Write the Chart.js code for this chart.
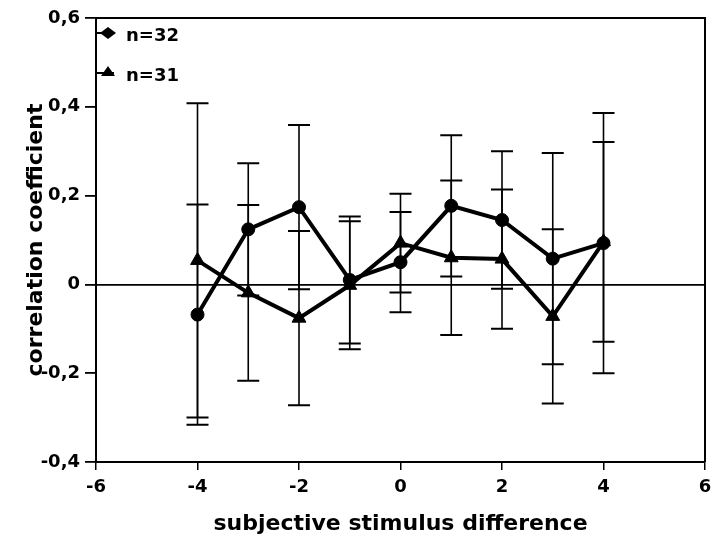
<!DOCTYPE html>
<html>
<head>
<meta charset="utf-8">
<script src="https://cdn.jsdelivr.net/npm/chart.js@4.4.0/dist/chart.umd.min.js"></script>
<style>
    html, body { margin: 0; padding: 0; background: #fff; }
    #contenedor { width: 714px; height: 549px; }
</style>
</head>
<body>
<div id="contenedor"><canvas id="grafico"></canvas></div>
<script>
// Datos
const xValores = [-4, -3, -2, -1, 0, 1, 2, 3, 4];
const n32Valores = [-0.068, 0.124, 0.174, 0.010, 0.050, 0.177, 0.145, 0.058, 0.093];
const n32Errores = [0.248, 0.149, 0.185, 0.143, 0.113, 0.159, 0.155, 0.238, 0.293];
const n31Valores = [0.054, -0.019, -0.076, -0.002, 0.093, 0.060, 0.057, -0.072, 0.096];
const n31Errores = [0.354, 0.198, 0.196, 0.144, 0.111, 0.174, 0.157, 0.196, 0.225];
const xTicks = [-6, -4, -2, 0, 2, 4, 6];
const yTicks = [-0.4, -0.2, 0, 0.2, 0.4, 0.6];

const fuente = 'DejaVu Sans';

// Barras de error (se dibujan antes de las líneas)
const barrasError = {
    id: 'barrasError',
    beforeDatasetsDraw(chart) {
        const { ctx, scales: { x, y } } = chart;
        ctx.save();
        ctx.strokeStyle = '#000';
        chart.data.datasets.forEach(ds => {
            ds.data.forEach((p, i) => {
                const px = x.getPixelForValue(p.x);
                const arriba = y.getPixelForValue(p.y + ds.errores[i]);
                const abajo = y.getPixelForValue(p.y - ds.errores[i]);
                ctx.lineWidth = 1.6;
                ctx.beginPath();
                ctx.moveTo(px, arriba);
                ctx.lineTo(px, abajo);
                ctx.stroke();
                ctx.lineWidth = 2;
                ctx.beginPath();
                ctx.moveTo(px - 11, arriba);
                ctx.lineTo(px + 11, arriba);
                ctx.moveTo(px - 11, abajo);
                ctx.lineTo(px + 11, abajo);
                ctx.stroke();
            });
        });
        ctx.restore();
    }
};

// Marco superior y derecho + leyenda dentro del área
const marcoYLeyenda = {
    id: 'marcoYLeyenda',
    afterDraw(chart) {
        const { ctx, chartArea: a } = chart;
        ctx.save();
        ctx.strokeStyle = '#000';
        ctx.lineWidth = 2;
        ctx.beginPath();
        ctx.moveTo(a.left, a.top);
        ctx.lineTo(a.right, a.top);
        ctx.lineTo(a.right, a.bottom);
        ctx.stroke();

        chart.data.datasets.forEach((ds, i) => {
            const yl = a.top + 15 + i * 40;
            const xm = a.left + 12;
            ctx.lineWidth = 2;
            ctx.beginPath();
            ctx.moveTo(a.left + 1, yl);
            ctx.lineTo(xm + 6, yl);
            ctx.stroke();
            ctx.fillStyle = '#000';
            ctx.beginPath();
            if (ds.marcaLeyenda === 'diamante') {
                ctx.moveTo(xm - 8, yl);
                ctx.lineTo(xm, yl - 6);
                ctx.lineTo(xm + 8, yl);
                ctx.lineTo(xm, yl + 6);
            } else {
                ctx.moveTo(xm - 7, yl + 3);
                ctx.lineTo(xm, yl - 7);
                ctx.lineTo(xm + 7, yl + 3);
            }
            ctx.closePath();
            ctx.fill();
            ctx.font = 'bold 18px "' + fuente + '"';
            ctx.textBaseline = 'middle';
            ctx.textAlign = 'left';
            ctx.fillText(ds.label, a.left + 30, yl + 3);
        });
        ctx.restore();
    }
};

const fuenteTicks = { family: fuente, size: 18, weight: 'bold' };
const fuenteTitulo = { family: fuente, size: 22, weight: 'bold' };

new Chart(document.getElementById('grafico'), {
    type: 'scatter',
    data: {
        datasets: [{
            label: 'n=32',
            data: xValores.map((x, i) => ({ x: x, y: n32Valores[i] })),
            errores: n32Errores,
            marcaLeyenda: 'diamante',
            showLine: true,
            borderColor: '#000',
            borderWidth: 4,
            pointStyle: 'circle',
            pointRadius: 6.5,
            pointBorderWidth: 1,
            pointBackgroundColor: '#000',
            pointBorderColor: '#000'
        }, {
            label: 'n=31',
            data: xValores.map((x, i) => ({ x: x, y: n31Valores[i] })),
            errores: n31Errores,
            marcaLeyenda: 'triangulo',
            showLine: true,
            borderColor: '#000',
            borderWidth: 4,
            pointStyle: 'triangle',
            pointRadius: 8,
            pointBorderWidth: 1,
            pointBackgroundColor: '#000',
            pointBorderColor: '#000'
        }]
    },
    options: {
        responsive: true,
        maintainAspectRatio: false,
        animation: false,
        layout: { padding: { top: 18, right: 1, left: 0, bottom: 0 } },
        plugins: {
            legend: { display: false },
            tooltip: { enabled: false }
        },
        scales: {
            x: {
                type: 'linear',
                min: -6,
                max: 6,
                afterBuildTicks: s => { s.ticks = xTicks.map(v => ({ value: v })); },
                afterFit: s => { s.height = 87; s.paddingLeft = 0; s.paddingRight = 0; },
                border: { display: true, color: '#000', width: 2 },
                grid: { drawOnChartArea: false, drawTicks: true, tickLength: 8, color: '#000', tickColor: '#000', lineWidth: 1.5 },
                ticks: { color: '#000', font: fuenteTicks, padding: 7, maxRotation: 0 },
                title: { display: true, text: 'subjective stimulus difference', color: '#000', font: fuenteTitulo, padding: { top: 0, bottom: 12 } }
            },
            y: {
                type: 'linear',
                min: -0.4,
                max: 0.6,
                afterBuildTicks: s => { s.ticks = yTicks.map(v => ({ value: v })); },
                afterFit: s => { s.width = 96; },
                border: { display: true, color: '#000', width: 2 },
                grid: {
                    drawOnChartArea: true,
                    drawTicks: true,
                    tickLength: 11,
                    lineWidth: 1.8,
                    tickColor: '#000',
                    color: c => (c.tick && c.tick.value === 0) ? '#000' : 'rgba(0,0,0,0)'
                },
                ticks: {
                    color: '#000',
                    font: fuenteTicks,
                    padding: 5,
                    callback: v => v === 0 ? '0' : v.toFixed(1).replace('.', ',')
                },
                title: { display: true, text: 'correlation coefficient', color: '#000', font: fuenteTitulo, padding: { top: 23, bottom: 0 } }
            }
        }
    },
    plugins: [barrasError, marcoYLeyenda]
});
</script>
</body>
</html>
